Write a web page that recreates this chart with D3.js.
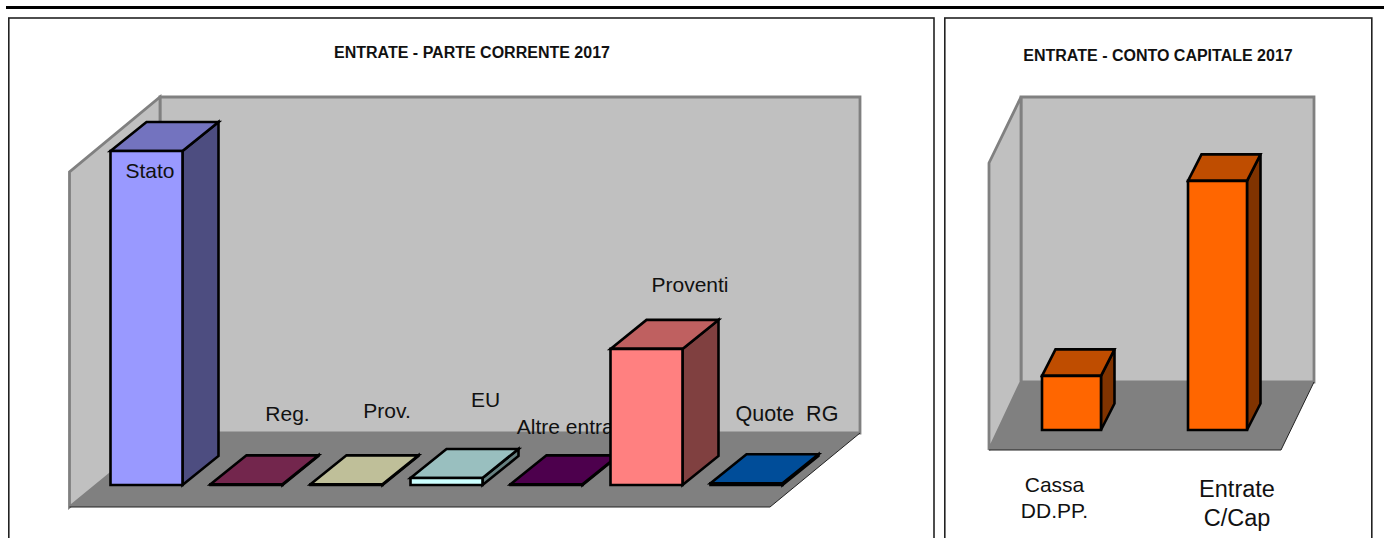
<!DOCTYPE html>
<html><head><meta charset="utf-8">
<script src="https://cdn.jsdelivr.net/npm/d3@7"></script>
<style>
html,body{margin:0;padding:0;background:#fff;overflow:hidden}
svg{display:block}
text{font-family:"Liberation Sans",Arial,sans-serif;fill:#111;white-space:pre}
</style></head><body>
<script>
// Data (percent of the wall height)
const correnteCategories = ["Stato","Reg.","Prov.","EU","Altre entrate","Proventi","Quote  RG"];
const correnteValues = [99.4, 0.2, 0.2, 2.1, 0.2, 40.5, 0.5];
const correnteColors = ["#9999ff","#993366","#ffffcc","#ccffff","#660066","#ff8080","#0066cc"];
const capitaleCategories = ["Cassa DD.PP.","Entrate C/Cap"];
const capitaleValues = [19, 87.4];
const capitaleColors = ["#ff6600","#ff6600"];

// Layout of the two panels
const correnteLabels = [
  {x:150,y:178,size:21,lines:["Stato"]},
  {x:287.5,y:421,size:21,lines:["Reg."]},
  {x:387,y:418,size:21,lines:["Prov."]},
  {x:485.5,y:407,size:21,lines:["EU"]},
  {x:574,y:434,size:21,lines:["Altre entrate"]},
  {x:690,y:292,size:21,lines:["Proventi"]},
  {x:787,y:421,size:21.5,lines:["Quote  RG"]}
];
const capitaleLabels = [
  {x:1054.5,y:492,size:21,lines:["Cassa","DD.PP."],lh:26},
  {x:1237,y:497,size:23.5,lines:["Entrate","C/Cap"],lh:29}
];

const svg = d3.select("body").append("svg").attr("width",1384).attr("height",538);
svg.append("rect").attr("x",6).attr("y",6).attr("width",1378).attr("height",3).attr("fill","#000");

function panel(cfg){
  const g = svg.append("g");
  g.append("rect").attr("x",cfg.frame[0]).attr("y",18).attr("width",cfg.frame[1]-cfg.frame[0]).attr("height",560)
    .attr("fill","#fff").attr("stroke","#222").attr("stroke-width",1.6);
  g.append("text").attr("x",cfg.titleX).attr("y",cfg.titleY).attr("text-anchor","middle")
    .attr("font-size",cfg.titleSize).attr("font-weight","bold").attr("fill","#000").text(cfg.title);

  const f = cfg.floor; // fl = front left x, bl = back left x, br = back right x, fr = front right x
  const wall = [[f.bl,f.backY],[f.br,f.backY],[f.br,f.wallTop],[f.bl,f.wallTop]];
  const side = [[f.fl,f.frontY],[f.bl,f.backY],[f.bl,f.wallTop],[f.fl,f.sideTop]];
  const floor = [[f.fl,f.frontY],[f.bl,f.backY],[f.br,f.backY],[f.fr,f.frontY]];
  const pts = p=>p.map(d=>d.join(",")).join(" ");
  g.append("polygon").attr("points",pts(wall)).attr("fill","#c0c0c0").attr("stroke","#808080").attr("stroke-width",2.8);
  g.append("polygon").attr("points",pts(side)).attr("fill","#c0c0c0").attr("stroke","#808080").attr("stroke-width",2.8);
  g.append("polygon").attr("points",pts(floor)).attr("fill","#808080");
  g.append("path").attr("d",`M${f.fl},${f.frontY}L${f.fr},${f.frontY}L${f.br},${f.backY}`)
    .attr("fill","none").attr("stroke","#222").attr("stroke-width",1);

  const x = d3.scaleBand().domain(cfg.categories).range(cfg.xRange).paddingInner(cfg.pad).paddingOuter(cfg.pad/2);
  const y = d3.scaleLinear().domain([0,100]).range([cfg.base,cfg.base-(f.backY-f.wallTop)]);
  const dx = cfg.depth[0], dy = cfg.depth[1];

  cfg.categories.forEach((c,i)=>{
    const col = d3.rgb(cfg.colors[i]);
    const shade = k=>d3.rgb(col.r*k,col.g*k,col.b*k).formatHex();
    const x0 = x(c), x1 = x0+x.bandwidth(), t = y(cfg.values[i]), b = y(0);
    const bar = g.append("g").attr("stroke","#000").attr("stroke-width",cfg.sw).attr("stroke-linejoin","miter");
    bar.append("polygon").attr("fill",shade(.5)).attr("points",pts([[x1,b],[x1+dx,b+dy],[x1+dx,t+dy],[x1,t]]));
    bar.append("polygon").attr("fill",shade(.75)).attr("points",pts([[x0,t],[x0+dx,t+dy],[x1+dx,t+dy],[x1,t]]));
    bar.append("polygon").attr("fill",col.formatHex()).attr("points",pts([[x0,b],[x0,t],[x1,t],[x1,b]]));
    const L = cfg.labels[i];
    const tx = g.append("text").attr("text-anchor","middle").attr("font-size",L.size);
    L.lines.forEach((s,j)=>tx.append("tspan").attr("x",L.x).attr("y",L.y+j*(L.lh||0)).text(s));
  });
}

panel({
  frame:[8.8,934], title:"ENTRATE - PARTE CORRENTE 2017", titleX:472, titleY:57.5, titleSize:16,
  floor:{fl:69.5,bl:160,br:860,fr:770,frontY:507,backY:433,wallTop:97,sideTop:172},
  categories:correnteCategories, values:correnteValues, colors:correnteColors, labels:correnteLabels,
  xRange:[96.5,796.5], pad:.28, base:485, depth:[36,-29], sw:2.6
});
panel({
  frame:[944.8,1371.8], title:"ENTRATE - CONTO CAPITALE 2017", titleX:1158, titleY:61, titleSize:16,
  floor:{fl:989,bl:1021,br:1314,fr:1281,frontY:450,backY:382,wallTop:97,sideTop:163},
  categories:capitaleCategories, values:capitaleValues, colors:capitaleColors, labels:capitaleLabels,
  xRange:[998.5,1290.5], pad:.596, base:430, depth:[13.5,-26.5], sw:2.6
});
</script>
</body></html>
